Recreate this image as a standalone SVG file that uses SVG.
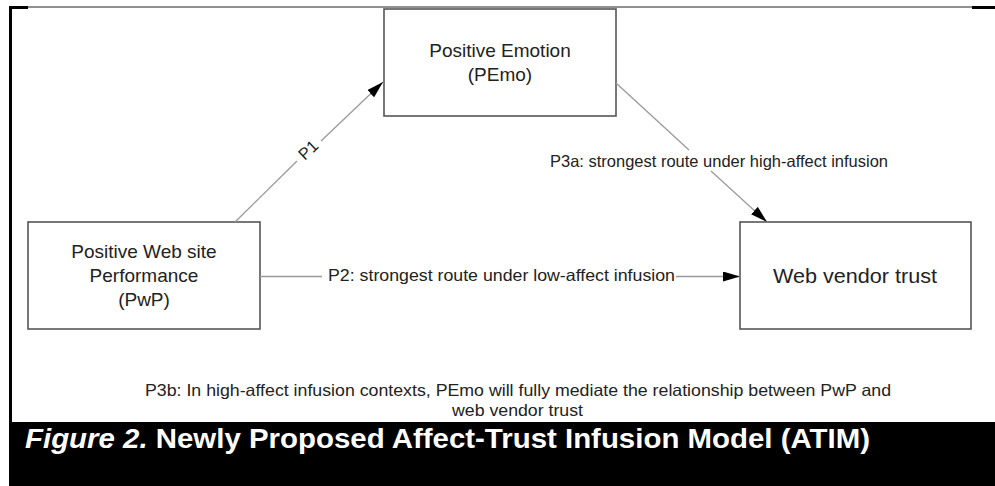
<svg xmlns="http://www.w3.org/2000/svg" width="995" height="486" viewBox="0 0 995 486">
<defs>
<marker id="ah" markerUnits="userSpaceOnUse" markerWidth="18" markerHeight="11" refX="17" refY="5" orient="auto">
<path d="M0,0 L17,5 L0,10 Z" fill="#000"/>
</marker>
<style>
.box{fill:#fff;stroke:#555;stroke-width:1.6}
.node{font-family:"Liberation Sans",Arial,sans-serif;fill:#222;text-anchor:middle}
.lbl{font-family:"Liberation Sans",Arial,sans-serif;fill:#222;font-size:16.5px}
.conn{stroke:#9a9a9a;stroke-width:1.3;fill:none}
</style>
</defs>
<rect x="0" y="0" width="995" height="486" fill="#fff"/>
<g id="frame">
<rect x="9" y="7" width="3" height="416" fill="#000"/>
<rect x="9" y="6" width="19" height="3" fill="#000"/>
<line x1="28" y1="7" x2="972" y2="7" stroke="#222" stroke-width="1"/>
<rect x="972" y="6" width="23" height="3" fill="#000"/>
</g>
<g id="n-pemo">
<rect class="box" x="384" y="9" width="232" height="107"/>
<text class="node" font-size="19" x="500" y="57">Positive Emotion</text>
<text class="node" font-size="19" x="500" y="81">(PEmo)</text>
</g>
<g id="n-pwp">
<rect class="box" x="28" y="222" width="232" height="107"/>
<text class="node" font-size="19" x="144" y="258">Positive Web site</text>
<text class="node" font-size="19" x="144" y="282">Performance</text>
<text class="node" font-size="19" x="144" y="306">(PwP)</text>
</g>
<g id="n-trust">
<rect class="box" x="740" y="222" width="231" height="107"/>
<text class="node" font-size="21" x="855" y="283" textLength="164" lengthAdjust="spacingAndGlyphs">Web vendor trust</text>
</g>
<g id="connectors">
<line class="conn" x1="235" y1="222" x2="297" y2="161"/>
<line class="conn" x1="321" y1="141" x2="383" y2="82" marker-end="url(#ah)"/>
<text class="lbl" x="309" y="151" text-anchor="middle" dominant-baseline="middle" transform="rotate(-43.4 309 151)">P1</text>
<line class="conn" x1="616" y1="83" x2="689" y2="150"/>
<line class="conn" x1="711" y1="171" x2="767" y2="222" marker-end="url(#ah)"/>
<text class="lbl" x="550" y="167" textLength="338" lengthAdjust="spacingAndGlyphs">P3a: strongest route under high-affect infusion</text>
<line class="conn" x1="260" y1="276.5" x2="322" y2="276.5"/>
<line class="conn" x1="676" y1="276.5" x2="740" y2="276.5" marker-end="url(#ah)"/>
<text class="lbl" x="328" y="281" textLength="347" lengthAdjust="spacingAndGlyphs">P2: strongest route under low-affect infusion</text>
</g>
<g id="note">
<text class="lbl" x="145" y="396" textLength="746" lengthAdjust="spacingAndGlyphs">P3b: In high-affect infusion contexts, PEmo will fully mediate the relationship between PwP and</text>
<text class="lbl" x="452" y="416" textLength="131" lengthAdjust="spacingAndGlyphs">web vendor trust</text>
</g>
<g id="caption">
<rect x="9" y="422" width="986" height="64" fill="#000"/>
<text x="25" y="448" font-family="Liberation Sans,Arial,sans-serif" font-weight="bold" font-size="28.5" fill="#fff" textLength="845" lengthAdjust="spacingAndGlyphs"><tspan font-style="italic">Figure 2.</tspan> Newly Proposed Affect-Trust Infusion Model (ATIM)</text>
</g>
</svg>
